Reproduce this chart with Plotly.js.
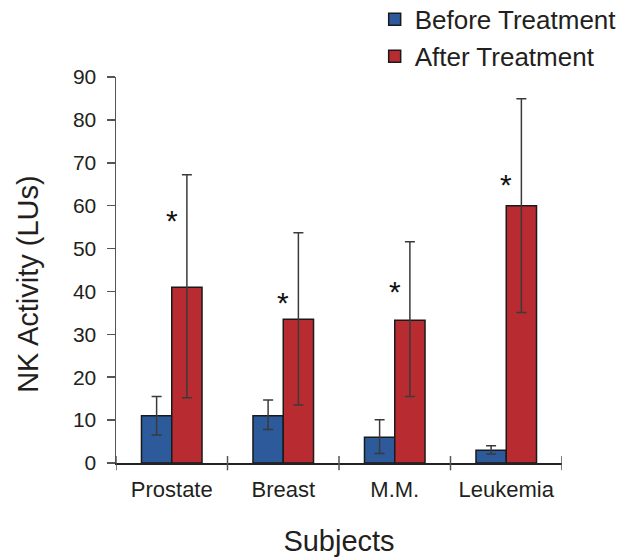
<!DOCTYPE html>
<html>
<head>
<meta charset="utf-8">
<script src="https://cdn.plot.ly/plotly-3.0.1.min.js"></script>
<style>html,body{margin:0;padding:0;background:#fff;}#chart{width:622px;height:557px;}</style>
</head>
<body>
<div id="chart"></div>
<script>
const categories = ["Prostate", "Breast", "M.M.", "Leukemia"];
const beforeVals = [11, 11, 6, 3];
const beforeHigh = [15.5, 14.7, 10.1, 4.0];
const beforeLow = [6.5, 7.8, 2.2, 2.1];
const afterVals = [41, 33.5, 33.3, 60];
const afterHigh = [67.2, 53.7, 51.6, 84.9];
const afterLow = [15.2, 13.5, 15.5, 35.1];
const starY = [58, 38.8, 41.5, 66.4];
const yTicks = [0, 10, 20, 30, 40, 50, 60, 70, 80, 90];
const yTitle = "NK Activity (LUs)";
const xTitle = "Subjects";

const FONT = "Liberation Sans, Arial, sans-serif";
const TXT = "#231f20";

function errBar(vals, hi, lo) {
  return {
    type: "data", symmetric: false,
    array: hi.map((h, i) => h - vals[i]),
    arrayminus: lo.map((l, i) => vals[i] - l),
    color: "#3a3a3a", thickness: 1.5, width: 5
  };
}

const traces = [
  {
    type: "bar", name: "Before Treatment", x: categories, y: beforeVals,
    marker: {color: "#2d5a9b", line: {color: "#1a1a1a", width: 1.5}},
    error_y: errBar(beforeVals, beforeHigh, beforeLow), hoverinfo: "skip"
  },
  {
    type: "bar", name: "After Treatment", x: categories, y: afterVals,
    marker: {color: "#b82c31", line: {color: "#1a1a1a", width: 1.5}},
    error_y: errBar(afterVals, afterHigh, afterLow), hoverinfo: "skip"
  }
];

const annotations = categories.map((c, i) => ({
  x: c, y: starY[i], xref: "x", yref: "y", text: "*", showarrow: false,
  yanchor: "middle", yshift: -6,
  font: {family: FONT, size: 30, color: "#111"}
}));
annotations.push({
  xref: "paper", yref: "paper", x: -0.197, y: 0.4645,
  xanchor: "center", yanchor: "middle", textangle: -90,
  text: yTitle, showarrow: false,
  font: {family: FONT, size: 29, color: TXT}
});

const shapes = [];
for (let i = 0; i <= categories.length; i++) {
  shapes.push({
    type: "line", xref: "x", yref: "paper", x0: i - 0.5, x1: i - 0.5,
    y0: -0.019, y1: 0.018, line: {color: "#555", width: 1.5}
  });
}

const layout = {
  width: 622, height: 557,
  margin: {l: 116, r: 60, t: 77, b: 94, autoexpand: false},
  paper_bgcolor: "#fff", plot_bgcolor: "#fff",
  barmode: "group", bargap: 0.457, bargroupgap: 0,
  showlegend: true,
  legend: {
    x: 0.58, y: 1.21, xanchor: "left", yanchor: "top",
    xref: "paper", yref: "paper",
    font: {family: FONT, size: 26, color: TXT},
    bgcolor: "rgba(0,0,0,0)", tracegroupgap: 0
  },
  xaxis: {
    type: "category", range: [-0.5, 3.5],
    showline: true, linecolor: "#222", linewidth: 1.5,
    ticks: "", showgrid: false, zeroline: false,
    ticklabelstandoff: 6,
    tickfont: {family: FONT, size: 22, color: TXT},
    title: {text: xTitle, font: {family: FONT, size: 29, color: TXT}, standoff: 30}
  },
  yaxis: {
    range: [0, 90], tickvals: yTicks, ticktext: yTicks.map(String),
    showline: true, linecolor: "#555", linewidth: 1.5,
    ticks: "outside", ticklen: 8, tickwidth: 1.5, tickcolor: "#555",
    showgrid: false, zeroline: false,
    ticklabelstandoff: 6,
    tickfont: {family: FONT, size: 21, color: TXT}
  },
  annotations: annotations,
  shapes: shapes
};

Plotly.newPlot("chart", traces, layout, {displayModeBar: false, staticPlot: true});
</script>
</body>
</html>
